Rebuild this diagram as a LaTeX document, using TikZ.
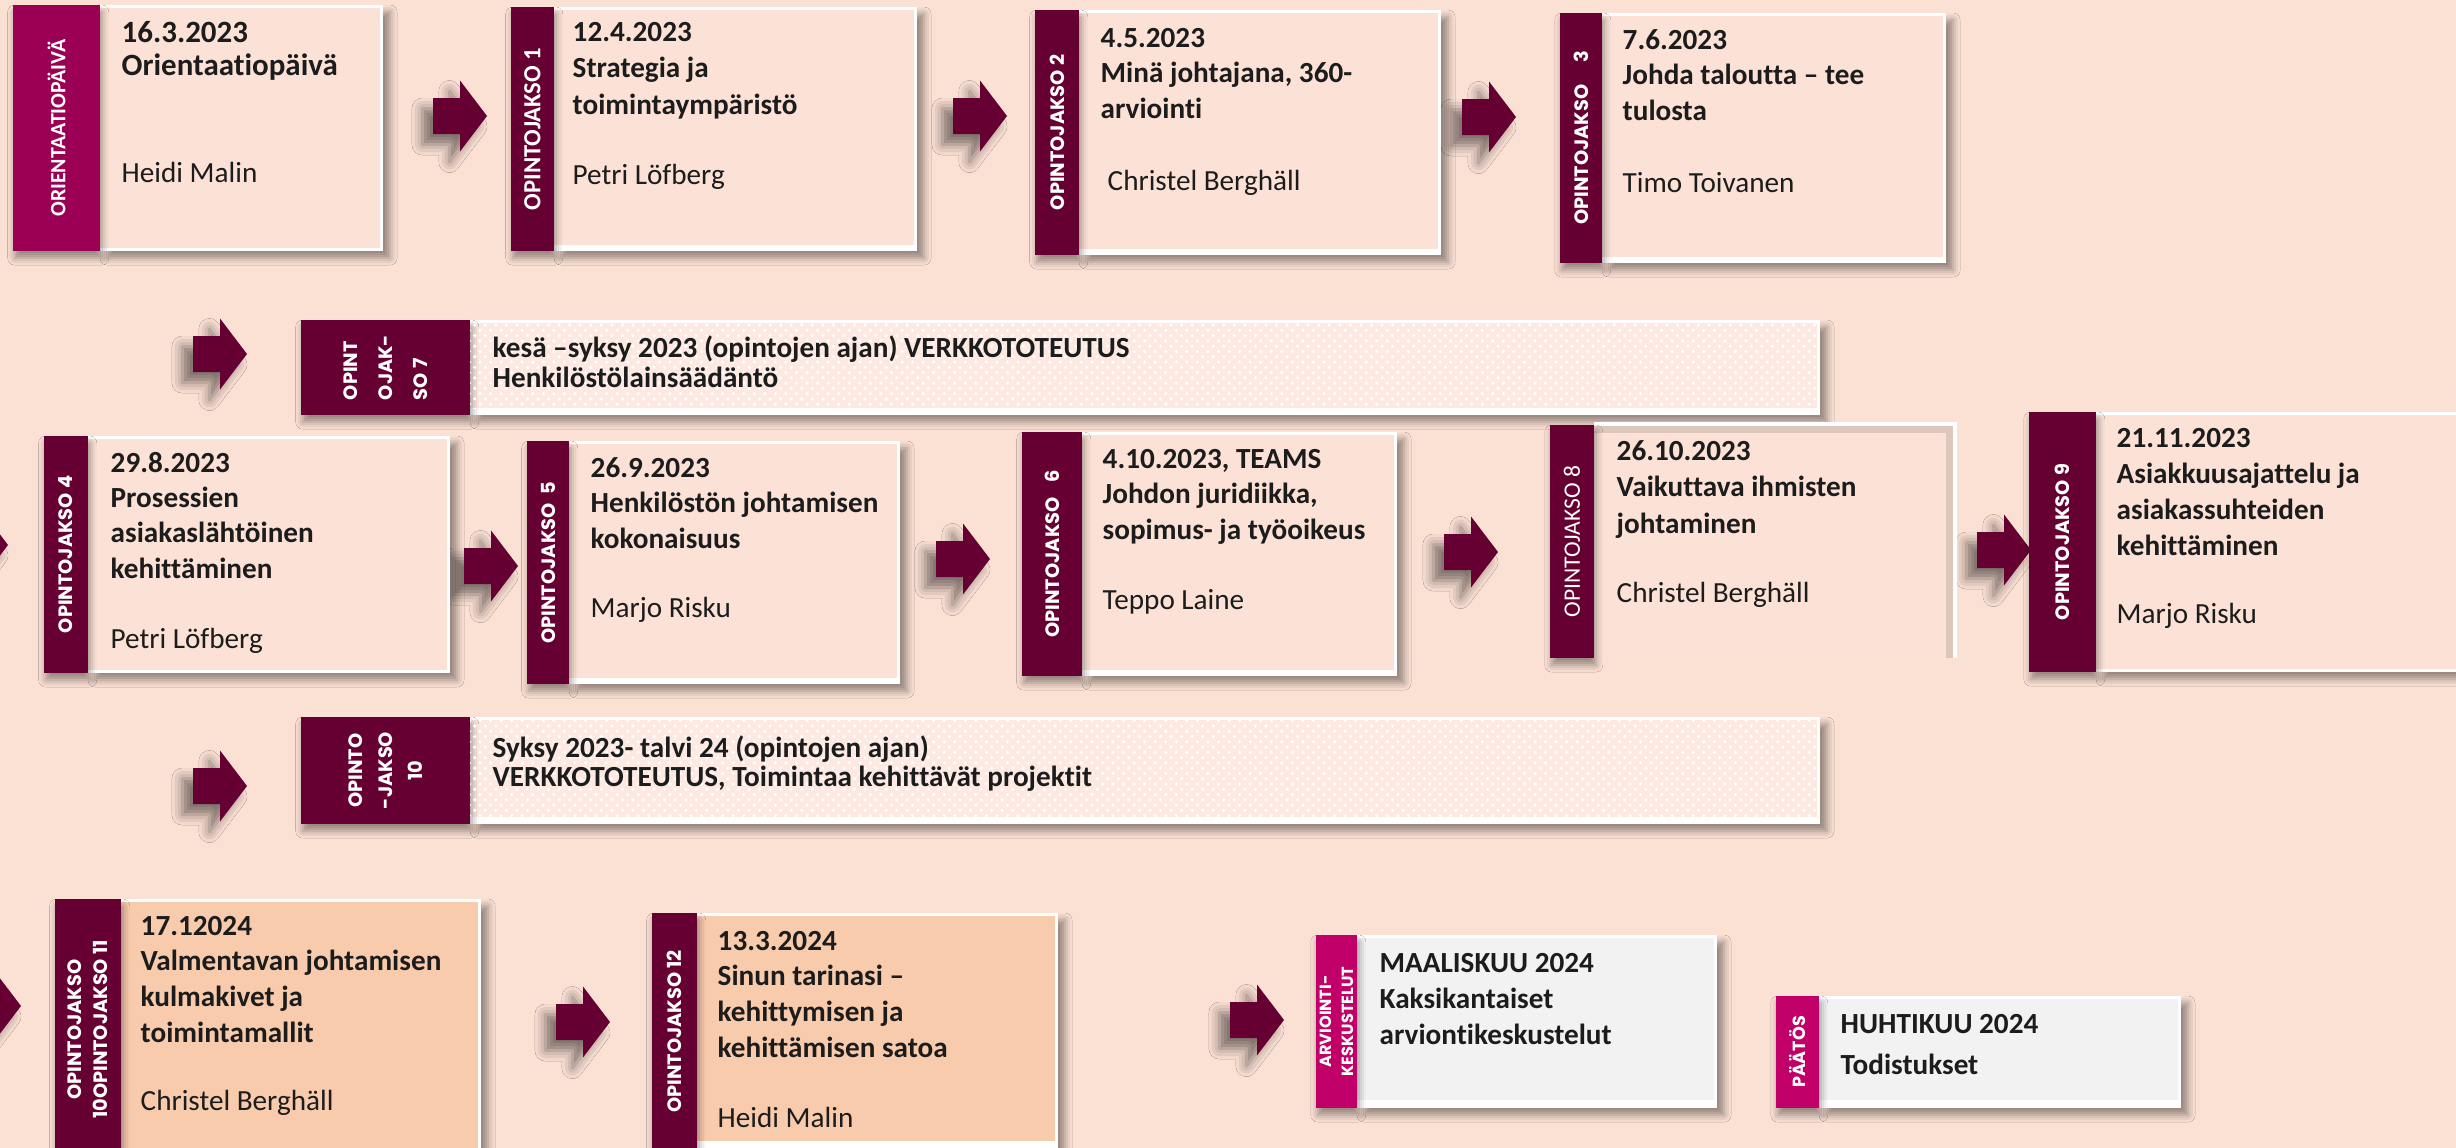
\documentclass[tikz,border=0pt]{standalone}
\usepackage{fontspec}
\setmainfont{Carlito}[Ligatures=NoCommon]
\newfontfamily\geofont{Poppins}
\usetikzlibrary{fit,shadows.blur,patterns}
\definecolor{bgc}{RGB}{251,224,212}
\definecolor{boxc}{RGB}{252,226,214}
\definecolor{peachc}{RGB}{248,203,173}
\definecolor{greyc}{RGB}{242,242,242}
\definecolor{maroonc}{RGB}{102,0,51}
\definecolor{orientc}{RGB}{155,0,85}
\definecolor{magc}{RGB}{192,0,104}
\definecolor{txtc}{RGB}{28,28,28}
\definecolor{patc}{RGB}{253,233,226}
\tikzset{
 outerbox/.style={fill=white, inner sep=0pt, outer sep=0pt, blur shadow={shadow xshift=2pt, shadow yshift=-2pt, shadow blur radius=2pt, shadow opacity=40}},
 innerbox/.style={inner sep=0pt, outer sep=0pt},
 barbox/.style={inner sep=0pt, outer sep=0pt, blur shadow={shadow xshift=0.5pt, shadow yshift=-2pt, shadow blur radius=2pt, shadow opacity=40}},
 barlab/.style={text=white, inner sep=0pt, rotate=90, align=center, font=\geofont\bfseries\fontsize{5.5}{6.6}\selectfont},
 callab/.style={text=white, inner sep=0pt, rotate=90, align=center, font=\bfseries\fontsize{7}{8}\selectfont},
 txt/.style={anchor=base west, inner sep=0pt, text=txtc, font=\fontsize{8.3}{10.15}\selectfont},
 blockarrow/.style={fill=maroonc, blur shadow={shadow xshift=-3pt, shadow yshift=-3pt, shadow blur radius=3pt, shadow opacity=50}},
}
\newcommand\tlines[1]{\begin{tabular}[t]{@{}l@{}}#1\end{tabular}}
\newcommand\blockarr[2]{\path[blockarrow] (#1,#2-18) -- (#1+27,#2-18) -- (#1+27,#2-35.5) -- (#1+54,#2) -- (#1+27,#2+35.5) -- (#1+27,#2+18) -- (#1,#2+18) -- cycle;}
\newcommand\card[9]{%
 \node[outerbox, fit={(#3,#5) (#4,#6)}] (#1) {};
 \node[innerbox, fill=#8, fit={(#3,#5+3) (#4-3,#6-#9)}] (#1f) {};
 \node[barbox, fill=#7, fit={(#2,#5) (#3,#6)}] (#1b) {};
}
\begin{document}
\begin{tikzpicture}[x=0.01cm,y=-0.01cm]
\useasboundingbox (0,0) rectangle (2456,1148);
\clip (0,0) rectangle (2456,1148);
\fill[bgc] (0,0) rectangle (2456,1148);

% arrows
\blockarr{433}{116}
\blockarr{953}{116}
\blockarr{1462}{117}
\blockarr{193}{354}
\blockarr{-46}{545}
\blockarr{464}{566}
\blockarr{936}{559}
\blockarr{1444}{552}
\blockarr{1977}{550}
\blockarr{193}{786}
\blockarr{-33}{1006}
\blockarr{556}{1022}
\blockarr{1230}{1020}

% row 1
\card{o}{13}{100}{383}{5}{251}{orientc}{boxc}{3}
\node[callab, font=\bfseries\fontsize{6.2}{7}\selectfont] (ol) at (ob) {ORIENTAATIOPÄIVÄ};
\node[txt, font=\bfseries\fontsize{8.8}{9.4}\selectfont] (ot) at (121,42) {\tlines{16.3.2023\\Orientaatiopäivä}};
\node[txt] (on) at (121,182) {Heidi Malin};

\card{pa}{511}{554}{917}{7}{251}{maroonc}{boxc}{6}
\node[callab] (pal) at (pab) {OPINTOJAKSO 1};
\node[txt, font=\bfseries\fontsize{8.3}{10.4}\selectfont] (pat) at (572,41) {\tlines{12.4.2023\\Strategia ja\\toimintaympäristö}};
\node[txt] (pan) at (572,184) {Petri Löfberg};

\card{pb}{1035}{1079}{1441}{10}{255}{maroonc}{boxc}{6}
\node[barlab] (pbl) at (pbb) {OPINTOJAKSO 2};
\node[txt, font=\bfseries\fontsize{8.3}{10.15}\selectfont] (pbt) at (1100,47) {\tlines{4.5.2023\\Minä johtajana, 360-\\arviointi}};
\node[txt] (pbn) at (1107,190) {Christel Berghäll};

\card{pc}{1560}{1602}{1946}{13}{263}{maroonc}{boxc}{6}
\node[barlab] (pcl) at (pcb) {OPINTOJAKSO\hspace{5pt} 3};
\node[txt, font=\bfseries\fontsize{8.3}{10.15}\selectfont] (pct) at (1622,49) {\tlines{7.6.2023\\Johda taloutta – tee\\tulosta}};
\node[txt] (pcn) at (1622,192) {Timo Toivanen};

% row 2
\card{pg}{301}{470}{1820}{320}{415}{maroonc}{patc}{7}
\fill[pattern=crosshatch dots, pattern color=white] (pgf.south west) rectangle (pgf.north east);
\node[barlab, align=left, font=\geofont\bfseries\fontsize{5.5}{10}\selectfont] (pgl) at (pgb) {OPINT\\OJAK-\\SO 7};
\node[txt, font=\bfseries\fontsize{8.3}{8.8}\selectfont] (pgt) at (492,357) {\tlines{kesä –syksy 2023 (opintojen ajan) VERKKOTOTEUTUS\\Henkilöstölainsäädäntö}};

% row 3
\card{pd}{44}{88}{450}{436}{673}{maroonc}{boxc}{3}
\node[barlab] (pdl) at (pdb) {OPINTOJAKSO 4};
\node[txt, font=\bfseries\fontsize{8.3}{10.05}\selectfont] (pdt) at (110,472) {\tlines{29.8.2023\\Prosessien\\asiakaslähtöinen\\kehittäminen}};
\node[txt] (pdn) at (110,648) {Petri Löfberg};

\card{pe}{527}{569}{900}{441}{684}{maroonc}{boxc}{6}
\node[barlab] (pel) at (peb) {OPINTOJAKSO\hspace{1.5pt} 5};
\node[txt, font=\bfseries\fontsize{8.3}{10.1}\selectfont] (pet) at (590,477) {\tlines{26.9.2023\\Henkilöstön johtamisen\\kokonaisuus}};
\node[txt] (pen) at (590,617) {Marjo Risku};

\card{pf}{1022}{1082}{1397}{432}{676}{maroonc}{boxc}{6}
\node[barlab] (pfl) at (pfb) {OPINTOJAKSO\hspace{3pt} 6};
\node[txt, font=\bfseries\fontsize{8.3}{10.1}\selectfont] (pft) at (1102,468) {\tlines{4.10.2023, TEAMS\\Johdon juridiikka,\\sopimus- ja työoikeus}};
\node[txt] (pfn) at (1102,609) {Teppo Laine};

\node[innerbox, fill=boxc, fit={(1594,424) (1955,658)}] (ph) {};
\draw[black, opacity=0.12, line width=2pt] ([yshift=-1.5pt]ph.north west) -- ([xshift=-1.5pt,yshift=-1.5pt]ph.north east) -- ([xshift=-1.5pt]ph.south east);
\draw[white, line width=1pt] (ph.north west) -- (ph.north east) -- (ph.south east);
\node[barbox, fill=maroonc, fit={(1550,425) (1594,658)}] (phb) {};
\node[callab, font=\fontsize{6.7}{8}\selectfont] (phl) at (phb) {OPINTOJAKSO 8};
\node[txt, font=\bfseries\fontsize{8.3}{10.4}\selectfont] (pht) at (1616,460) {\tlines{26.10.2023\\Vaikuttava ihmisten\\johtaminen}};
\node[txt] (phn) at (1616,602) {Christel Berghäll};

\card{pi}{2029}{2096}{2470}{412}{672}{maroonc}{boxc}{3}
\node[barlab] (pil) at (pib) {OPINTOJAKSO 9};
\node[txt, font=\bfseries\fontsize{8.3}{10.3}\selectfont] (pit) at (2116,447) {\tlines{21.11.2023\\Asiakkuusajattelu ja\\asiakassuhteiden\\kehittäminen}};
\node[txt] (pin) at (2116,623) {Marjo Risku};

% row 4
\card{pj}{301}{470}{1820}{717}{824}{maroonc}{patc}{7}
\fill[pattern=crosshatch dots, pattern color=white] (pjf.south west) rectangle (pjf.north east);
\node[barlab, font=\geofont\bfseries\fontsize{5.5}{8.5}\selectfont] (pjl) at (pjb) {OPINTO\\-JAKSO\\10};
\node[txt, font=\bfseries\fontsize{8.3}{8.5}\selectfont] (pjt) at (492,757) {\tlines{Syksy 2023- talvi 24 (opintojen ajan)\\VERKKOTOTEUTUS, Toimintaa kehittävät projektit}};

% row 5
\card{pk}{55}{121}{481}{899}{1160}{maroonc}{peachc}{3}
\node[barlab, font=\geofont\bfseries\fontsize{5.5}{7.4}\selectfont] (pkl) at (pkb) {OPINTOJAKSO\\10OPINTOJAKSO 11};
\node[txt, font=\bfseries\fontsize{8.3}{10.15}\selectfont] (pkt) at (140,935) {\tlines{17.12024\\Valmentavan johtamisen\\kulmakivet ja\\toimintamallit}};
\node[txt] (pkn) at (140,1110) {Christel Berghäll};

\card{pl}{652}{697}{1058}{913}{1150}{maroonc}{peachc}{9}
\node[barlab] (pll) at (plb) {OPINTOJAKSO 12};
\node[txt, font=\bfseries\fontsize{8.3}{10.15}\selectfont] (plt) at (717,950) {\tlines{13.3.2024\\Sinun tarinasi –\\kehittymisen ja\\kehittämisen satoa}};
\node[txt] (pln) at (717,1127) {Heidi Malin};

\card{av}{1316}{1357}{1717}{935}{1108}{magc}{greyc}{8}
\node[barlab, font=\geofont\bfseries\fontsize{4.6}{6.2}\selectfont] (avl) at (avb) {ARVIOINTI-\\KESKUSTELUT};
\node[txt, font=\bfseries\fontsize{8.3}{10.25}\selectfont] (avt) at (1379,972) {\tlines{MAALISKUU 2024\\Kaksikantaiset\\arviontikeskustelut}};

\card{pt}{1776}{1819}{2181}{996}{1108}{magc}{greyc}{8}
\node[barlab, font=\geofont\bfseries\fontsize{5}{6}\selectfont] (ptl) at (ptb) {PÄÄTÖS};
\node[txt, font=\bfseries\fontsize{8.3}{11.9}\selectfont] (ptt) at (1840,1033) {\tlines{HUHTIKUU 2024\\Todistukset}};
\end{tikzpicture}
\end{document}
